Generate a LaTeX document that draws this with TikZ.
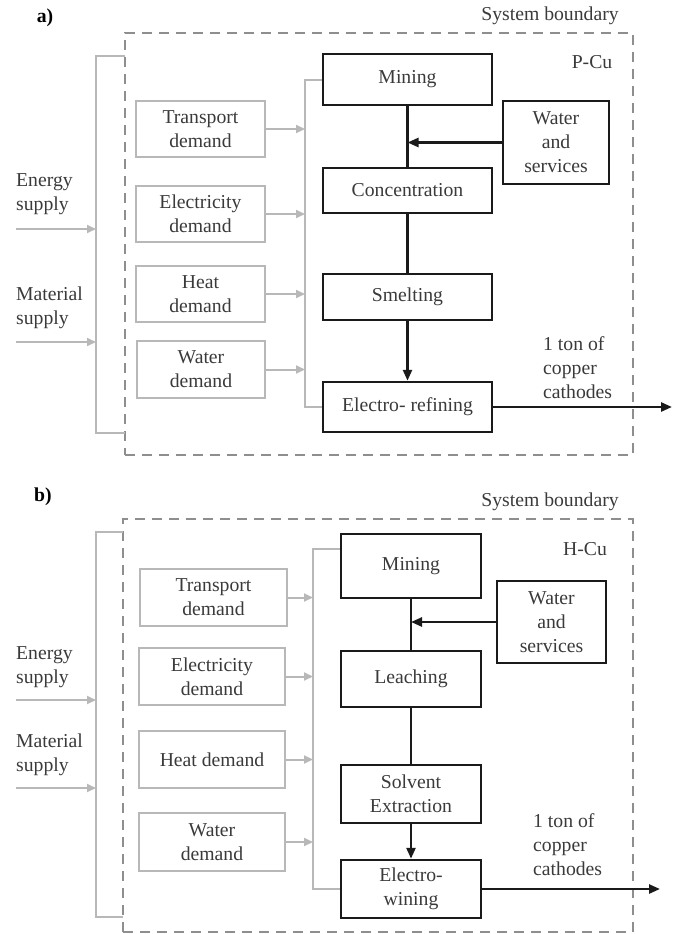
\documentclass[tikz,border=0pt]{standalone}
\usepackage{fontspec}
\setmainfont{Liberation Serif}
\usetikzlibrary{arrows.meta,calc}
\definecolor{txt}{HTML}{3A3A3A}
\definecolor{gline}{HTML}{B8B8B8}
\definecolor{dline}{HTML}{8E8E8E}
\definecolor{bline}{HTML}{1A1A1A}
\tikzset{
  every node/.style={font=\fontsize{19.7}{24}\selectfont, text=txt},
  pbox/.style={draw=bline, line width=2.5pt, inner sep=0pt, align=center},
  dbox/.style={draw=gline, line width=2pt, inner sep=0pt, align=center},
  bound/.style={draw=dline, line width=2pt, dash pattern=on 10pt off 7pt},
  gcon/.style={draw=gline, line width=2pt},
  garr/.style={draw=gline, line width=2pt, -{Triangle[length=9pt,width=8pt]}},
  bcon/.style={draw=bline, line width=2.5pt},
  barr/.style={draw=bline, line width=2.5pt, -{Triangle[length=11pt,width=9pt]}},
  lbl/.style={align=left, inner sep=0pt},
}
\begin{document}
\begin{tikzpicture}[x=1pt,y=-1pt]
\useasboundingbox (0,0) rectangle (679,934);

% ================= Panel a =================
\node[font=\fontsize{19.7}{24}\selectfont\bfseries, text=black] (la) at (45,18) {a)};
\node[bound, minimum width=508pt, minimum height=422pt, inner sep=0pt] (bnda) at (379,244) {};
\node (sba) at (550,16) {System boundary};
\node (pcu) at (592,62) {P-Cu};

\node[pbox, minimum width=169pt, minimum height=51pt] (mina) at (407.5,79.5) {Mining};
\node[pbox, minimum width=169pt, minimum height=45pt] (cona) at (407.5,190.5) {Concentration};
\node[pbox, minimum width=169pt, minimum height=46pt] (smea) at (407.5,297) {Smelting};
\node[pbox, minimum width=169pt, minimum height=50pt] (era) at (407.5,407) {Electro- refining};
\node[pbox, minimum width=106pt, minimum height=83pt] (wsa) at (556,142.5) {Water\\and\\services};

\node[dbox, minimum width=129pt, minimum height=56pt] (tra) at (200.5,129) {Transport\\demand};
\node[dbox, minimum width=129pt, minimum height=56pt] (ela) at (200.5,214) {Electricity\\demand};
\node[dbox, minimum width=129pt, minimum height=56pt] (hea) at (200.5,294) {Heat\\demand};
\node[dbox, minimum width=128pt, minimum height=57pt] (waa) at (201,369.5) {Water\\demand};

\coordinate (busa) at (305,0);
\draw[gcon] (mina.west) -| (busa |- era.west) -- (era.west);
\foreach \n in {tra,ela,hea,waa}{\draw[garr] (\n.east) -- (\n.east -| busa);}

\coordinate (brta) at (125,56);
\coordinate (brba) at (125,433);
\coordinate (brxa) at (96,0);
\draw[gcon] (brta) -- (brta -| brxa) -- (brba -| brxa) -- (brba);
\node[lbl, anchor=west] (esa) at (16,194) {Energy\\supply};
\node[lbl, anchor=west] (msa) at (16,307.5) {Material\\supply};
\coordinate (esta) at (16,229);
\coordinate (msta) at (16,342);
\draw[garr] (esta) -- (esta -| brxa);
\draw[garr] (msta) -- (msta -| brxa);

\draw[bcon] (mina.south) -- (cona.north);
\draw[barr] (wsa.west) -- (wsa.west -| mina.south);
\draw[bcon] (cona.south) -- (smea.north);
\draw[barr] (smea.south) -- (era.north);
\coordinate (outa) at (672,407);
\draw[barr] (era.east) -- (outa);
\node[lbl, anchor=west] (cca) at (543,368) {1 ton of\\copper\\cathodes};

% ================= Panel b =================
\node[font=\fontsize{19.7}{24}\selectfont\bfseries, text=black] (lb) at (43,497) {b)};
\node[bound, minimum width=510pt, minimum height=413pt, inner sep=0pt] (bndb) at (378,725.5) {};
\node (sbb) at (550,502) {System boundary};
\node (hcu) at (585,549) {H-Cu};

\node[pbox, minimum width=140pt, minimum height=64pt] (minb) at (411,566) {Mining};
\node[pbox, minimum width=140pt, minimum height=56pt] (leab) at (411,679) {Leaching};
\node[pbox, minimum width=140pt, minimum height=58pt] (sxb) at (411,794) {Solvent\\Extraction};
\node[pbox, minimum width=140pt, minimum height=58pt] (ewb) at (411,889) {Electro-\\wining};
\node[pbox, minimum width=109pt, minimum height=82pt] (wsb) at (551.5,622) {Water\\and\\services};

\node[dbox, minimum width=147pt, minimum height=57pt] (trb) at (213.5,597.5) {Transport\\demand};
\node[dbox, minimum width=146pt, minimum height=57pt] (elb) at (212,676.5) {Electricity\\demand};
\node[dbox, minimum width=146pt, minimum height=57pt] (heb) at (212,759.5) {Heat demand};
\node[dbox, minimum width=146pt, minimum height=58pt] (wab) at (212,842) {Water\\demand};

\coordinate (busb) at (313,0);
\coordinate (topb) at (minb.west |- 0,549);
\draw[gcon] (topb) -- (topb -| busb) -- (busb |- ewb.west) -- (ewb.west);
\foreach \n in {trb,elb,heb,wab}{\draw[garr] (\n.east) -- (\n.east -| busb);}

\coordinate (brtb) at (123,532);
\coordinate (brbb) at (123,917);
\coordinate (brxb) at (96,0);
\draw[gcon] (brtb) -- (brtb -| brxb) -- (brbb -| brxb) -- (brbb);
\node[lbl, anchor=west] (esb) at (16,667.5) {Energy\\supply};
\node[lbl, anchor=west] (msb) at (16,754.5) {Material\\supply};
\coordinate (estb) at (16,700);
\coordinate (mstb) at (16,788);
\draw[garr] (estb) -- (estb -| brxb);
\draw[garr] (mstb) -- (mstb -| brxb);

\draw[bcon] (minb.south) -- (leab.north);
\draw[barr] (wsb.west) -- (wsb.west -| minb.south);
\draw[bcon] (leab.south) -- (sxb.north);
\draw[barr] (sxb.south) -- (ewb.north);
\coordinate (outb) at (660,889);
\draw[barr] (ewb.east) -- (outb);
\node[lbl, anchor=west] (ccb) at (533,845) {1 ton of\\copper\\cathodes};
\end{tikzpicture}
\end{document}
